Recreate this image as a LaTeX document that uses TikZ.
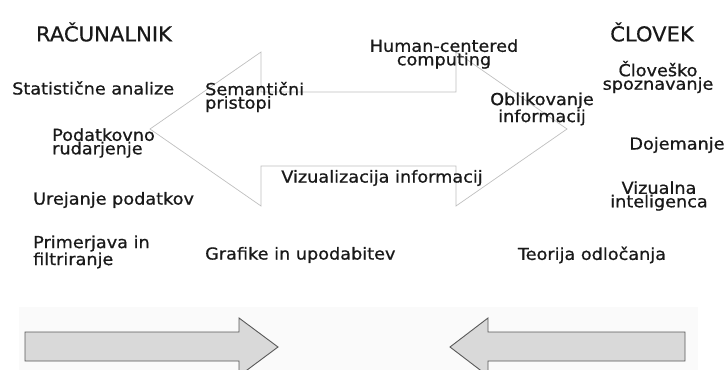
\documentclass[tikz,border=0pt]{standalone}
\usepackage{fontspec}
\setmainfont{DejaVu Sans}
\newfontfamily\lblfont[FakeStretch=1.07,FakeBold=0.8]{DejaVu Sans}
\newfontfamily\ttlfont[FakeStretch=1.03,FakeBold=0.4]{DejaVu Sans}
\begin{document}
\begin{tikzpicture}[x=1pt,y=-1pt,
  lbl/.style={inner sep=0pt,font=\lblfont\fontsize{16.5}{13.5}\selectfont,text=black!90},
  ttl/.style={inner sep=0pt,font=\ttlfont\fontsize{20.5}{22}\selectfont,text=black!90},
  outlinearrow/.style={draw=black!25,line width=0.7pt,line join=miter},
  blockarrow/.style={draw=black!65,fill=black!15,line width=0.9pt,line join=miter}]
\useasboundingbox (0,0) rectangle (724,370);

% faint band behind the lower arrows
\fill[black!2] (19,307) rectangle (698,370);

% large two-headed outline arrow
\draw[outlinearrow] (150,129) -- (261,52) -- (261,92) -- (456,92) -- (456,52)
  -- (567,129) -- (456,206) -- (456,166) -- (261,166) -- (261,206) -- cycle;

% lower block arrows
\draw[blockarrow] (25,332) -- (239,332) -- (239,318) -- (278,347) -- (239,376)
  -- (239,361) -- (25,361) -- cycle;
\draw[blockarrow] (685,332) -- (488,332) -- (488,318) -- (450,347) -- (488,376)
  -- (488,361) -- (685,361) -- cycle;

% headings
\node[ttl] (rac) at (104,32) {RAČUNALNIK};
\node[ttl] (clo) at (652,32) {ČLOVEK};

% computer side
\node[lbl,anchor=west] (stat) at (12,88) {Statistične analize};
\node[lbl,anchor=west,align=left] (sem) at (205,97) {Semantični\\pristopi};
\node[lbl,anchor=west,align=left] (pod) at (52,143) {Podatkovno\\rudarjenje};
\node[lbl,anchor=west] (ure) at (33,200) {Urejanje podatkov};
\node[lbl,anchor=west,align=left] (prim) at (33,252) {Primerjava in\\filtriranje};
\node[lbl,anchor=west] (graf) at (205,255) {Grafike in upodabitev};

% middle
\node[lbl,align=center] (hcc) at (444,54) {Human-centered\\computing};
\node[lbl,align=center] (obl) at (542,109) {Oblikovanje\\informacij};
\node[lbl] (viz) at (382,178) {Vizualizacija informacij};

% human side
\node[lbl,align=center] (spo) at (658,77) {Človeško\\spoznavanje};
\node[lbl] (doj) at (677,145) {Dojemanje};
\node[lbl,align=center] (vint) at (659,196) {Vizualna\\inteligenca};
\node[lbl] (teo) at (592,255) {Teorija odločanja};
\end{tikzpicture}
\end{document}
